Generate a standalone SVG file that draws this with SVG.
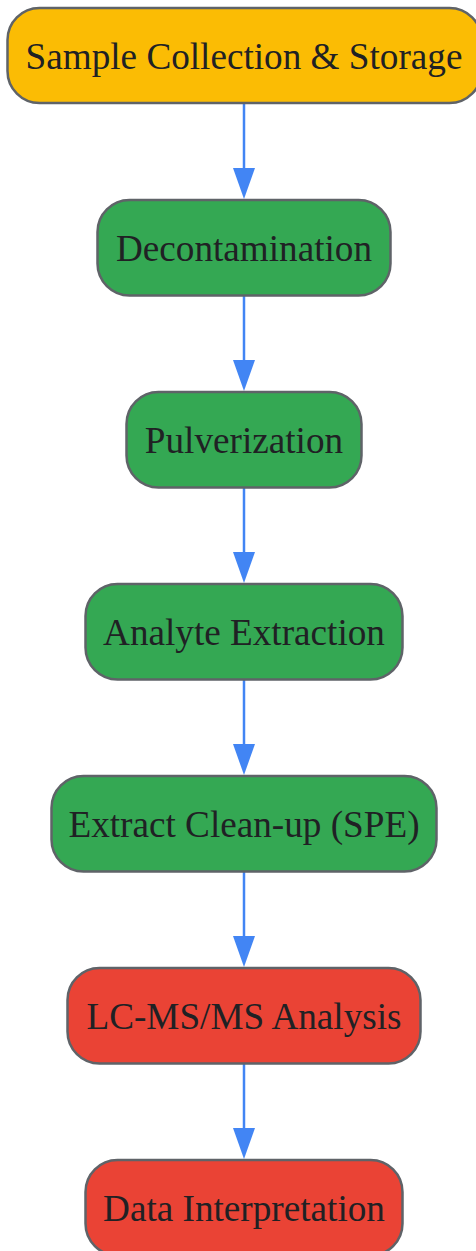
<svg xmlns="http://www.w3.org/2000/svg" width="476" height="1251" viewBox="0 0 476 1251">
<style>
.n rect{stroke:#5F6368;stroke-width:2.5}
.y{fill:#FBBC04}.g{fill:#34A853}.r{fill:#EA4335}
.n text{font-family:"Liberation Serif","Times New Roman",serif;font-size:37.2px;fill:#202124;text-anchor:middle}
.e line{stroke:#4285F4;stroke-width:2.5}
.e polygon{fill:#4285F4}
</style>
<rect width="476" height="1251" fill="#ffffff"/>
<g id="edges" class="e">
<line x1="244" y1="104" x2="244" y2="170"/><polygon points="233,168 255,168 244,199"/>
<line x1="244" y1="296" x2="244" y2="362"/><polygon points="233,360 255,360 244,391"/>
<line x1="244" y1="488" x2="244" y2="554"/><polygon points="233,552 255,552 244,583"/>
<line x1="244" y1="680" x2="244" y2="746"/><polygon points="233,744 255,744 244,775"/>
<line x1="244" y1="872" x2="244" y2="938"/><polygon points="233,936 255,936 244,967"/>
<line x1="244" y1="1064" x2="244" y2="1130"/><polygon points="233,1128 255,1128 244,1159"/>
</g>
<g id="n1" class="n"><rect class="y" x="7.5" y="8" width="474" height="95" rx="32"/><text x="244" y="69">Sample Collection &amp; Storage</text></g>
<g id="n2" class="n"><rect class="g" x="97.5" y="200" width="293" height="95.5" rx="32"/><text x="244" y="261">Decontamination</text></g>
<g id="n3" class="n"><rect class="g" x="126.5" y="392" width="235" height="95.5" rx="32"/><text x="244" y="453">Pulverization</text></g>
<g id="n4" class="n"><rect class="g" x="85.5" y="584" width="317" height="95.5" rx="32"/><text x="244" y="645">Analyte Extraction</text></g>
<g id="n5" class="n"><rect class="g" x="51.5" y="776" width="385" height="95.5" rx="32"/><text x="244" y="837">Extract Clean-up (SPE)</text></g>
<g id="n6" class="n"><rect class="r" x="67.5" y="968" width="353" height="95.5" rx="32"/><text x="244" y="1029">LC-MS/MS Analysis</text></g>
<g id="n7" class="n"><rect class="r" x="85.5" y="1160" width="317" height="95.5" rx="32"/><text x="244" y="1221">Data Interpretation</text></g>
</svg>
